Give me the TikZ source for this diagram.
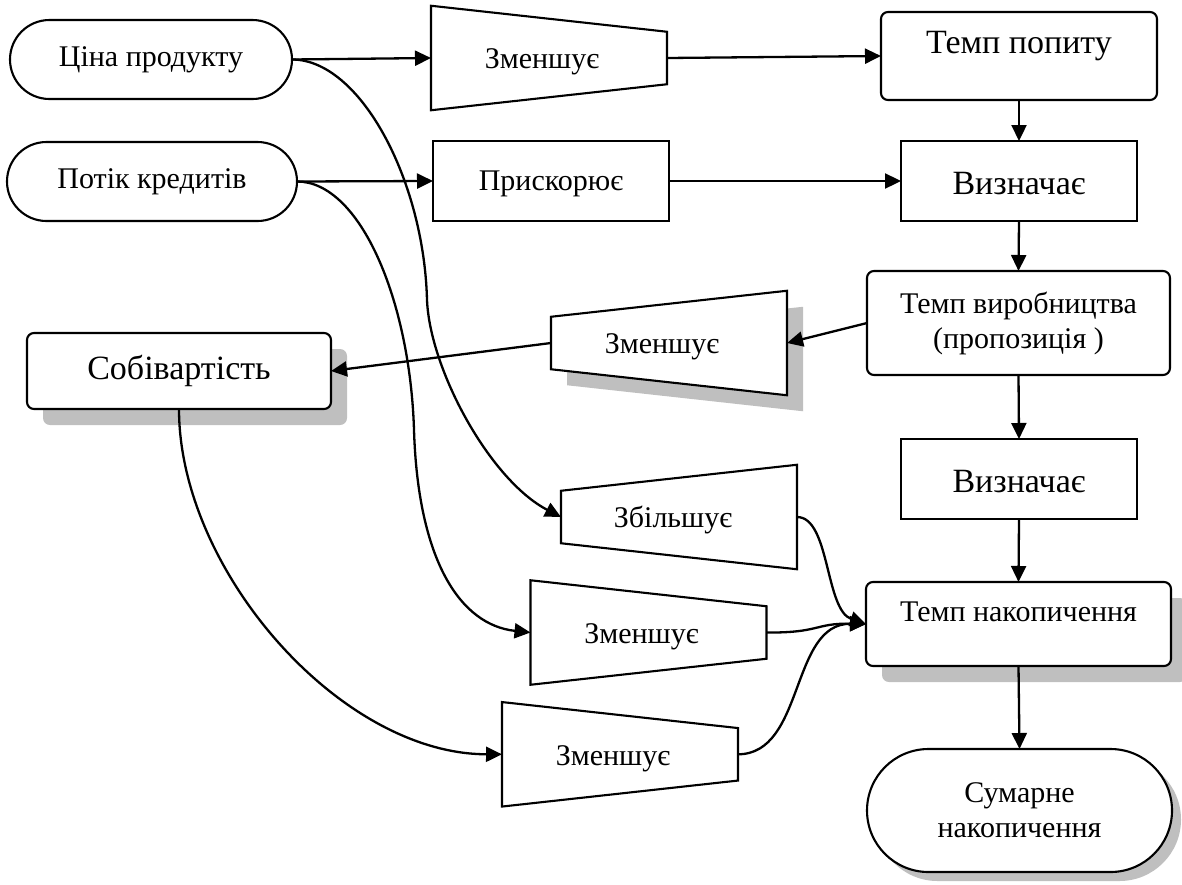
\documentclass[tikz,border=0pt]{standalone}
\usepackage{fontspec}
\setmainfont{Liberation Serif}
\usetikzlibrary{arrows.meta,calc,shadows,backgrounds}
\definecolor{shadowgray}{RGB}{191,191,191}
% raise a text without changing its box, so the node stays centred
\newcommand\liftby[2]{\raisebox{#1}[\height][\depth]{#2}}

\begin{document}
\begin{tikzpicture}[x=0.5pt,y=-0.5pt,
  every node/.style={inner sep=0pt,outer sep=0pt},
  base/.style={draw,line width=1.05pt,fill=white,align=center},
  small/.style={font=\fontsize{15}{17.5}\selectfont},
  large/.style={font=\fontsize{17}{20}\selectfont},
  pill/.style={base,small,minimum height=39.5pt,rounded corners=19.75pt},
  box/.style={base,minimum width=118pt,minimum height=40pt},
  rbox/.style={base,rounded corners=3.5pt},
  shade/.style={drop shadow={shadow xshift=8pt,shadow yshift=-8pt,fill=shadowgray,opacity=1}},
  shadesm/.style={drop shadow={shadow xshift=4.5pt,shadow yshift=-4.5pt,fill=shadowgray,opacity=1}},
  trapnode/.style={small,minimum width=118pt,minimum height=52.25pt},
  trapline/.style={draw,line width=1.05pt,line join=miter},
  link/.style={line width=1.15pt,-{Triangle[length=8pt,width=7.5pt]}}
]
\useasboundingbox (0,0) rectangle (1182,884);

% inputs
\node[pill,minimum width=141pt] (c1) at (151,59.5) {Ціна продукту};
\node[pill,minimum width=145pt] (c2) at (152,181.5) {Потік кредитів};

% effect labels
\node[trapnode] (t1) at (549,58) {\liftby{-2pt}{\kern-7pt Зменшує}};
\node[box,small] (pr) at (551,181) {\liftby{-1.5pt}{Прискорює}};
\node[trapnode] (t2) at (669,343) {\liftby{-2pt}{\kern-7pt Зменшує}};
\node[trapnode] (t3) at (679,517) {\liftby{-1.5pt}{\kern-6pt Збільшує}};
\node[trapnode] (t4) at (648.5,632.5) {\liftby{-2pt}{\kern-7pt Зменшує}};
\node[trapnode] (t5) at (620,754.3) {\liftby{-2pt}{\kern-7pt Зменшує}};

% main chain
\node[rbox,large,minimum width=138pt,minimum height=44pt] (tp) at (1019,56) {\liftby{5pt}{Темп попиту}};
\node[box,large] (v1) at (1019,181) {\liftby{-1.5pt}{Визначає}};
\node[rbox,small,minimum width=151.5pt,minimum height=52pt] (tv) at (1018.5,323) {Темп виробництва\\(пропозиція )};
\node[box,large] (v2) at (1019,479) {\liftby{-1.5pt}{Визначає}};
\node[rbox,small,shade,minimum width=152.5pt,minimum height=42pt] (tn) at (1018.5,624) {\liftby{6pt}{Темп накопичення}};
\node[pill,shadesm,minimum width=152.5pt,minimum height=61.5pt,rounded corners=30.75pt] (sum) at (1019.5,810.5) {Сумарне\\накопичення};
\node[rbox,large,shade,minimum width=152pt,minimum height=38pt] (sob) at (179,371) {Собівартість};

% trapezoid outlines around the effect labels
\draw[trapline] (t1.north west) -- ($(t1.north east)+(0,26)$) -- ($(t1.south east)+(0,-26)$) -- (t1.south west) -- cycle;
\begin{pgfonlayer}{background}
  \fill[shadowgray] ($(t2.north west)+(16,42)$) -- ($(t2.north east)+(16,16)$) -- ($(t2.south east)+(16,16)$) -- ($(t2.south west)+(16,-10)$) -- cycle;
  \fill[white] ($(t2.north west)+(0,26)$) -- (t2.north east) -- (t2.south east) -- ($(t2.south west)+(0,-26)$) -- cycle;
\end{pgfonlayer}
\draw[trapline] ($(t2.north west)+(0,26)$) -- (t2.north east) -- (t2.south east) -- ($(t2.south west)+(0,-26)$) -- cycle;
\draw[trapline] ($(t3.north west)+(0,26)$) -- (t3.north east) -- (t3.south east) -- ($(t3.south west)+(0,-26)$) -- cycle;
\draw[trapline] (t4.north west) -- ($(t4.north east)+(0,26)$) -- ($(t4.south east)+(0,-26)$) -- (t4.south west) -- cycle;
\draw[trapline] (t5.north west) -- ($(t5.north east)+(0,26)$) -- ($(t5.south east)+(0,-26)$) -- (t5.south west) -- cycle;

% straight connectors
\draw[link] (c1.east) -- (t1.west);
\draw[link] (t1.east) -- (tp.west);
\draw[link] (c2.east) -- (pr.west);
\draw[link] (pr.east) -- (v1.west);
\draw[link] (tp.south) -- (v1.north);
\draw[link] (v1.south) -- (tv.north);
\draw[link] (tv.south) -- (v2.north);
\draw[link] (v2.south) -- (tn.north);
\draw[link] (tn.south) -- (sum.north);
\draw[link] (tv.west) -- (t2.east);
\draw[link] (t2.west) -- (sob.east);

% curved connectors
\draw[link] (c1.east) .. controls (360,59.5) and (424,180) .. (427,300)
  .. controls (430,370) and (490,480) .. (t3.west);
\draw[link] (c2.east) .. controls (360,181.5) and (410,300) .. (414,430)
  .. controls (418,560) and (460,625) .. (t4.west);
\draw[link] (sob.south) .. controls (179,570) and (340,754) .. (t5.west);
\draw[link] (t3.east) .. controls (830,517) and (825,610) .. (tn.west);
\draw[link] (t4.east) .. controls (820,633) and (815,623) .. (tn.west);
\draw[link] (t5.east) .. controls (805,754) and (790,623) .. (tn.west);
\end{tikzpicture}
\end{document}
